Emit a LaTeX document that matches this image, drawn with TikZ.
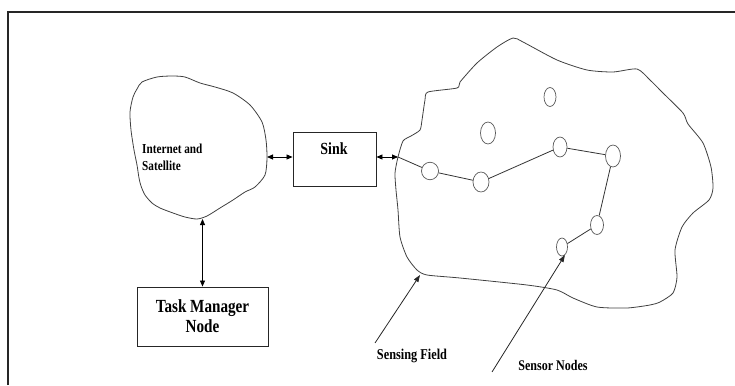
\documentclass[tikz,border=0pt]{standalone}
\usepackage{fontspec}
\setmainfont{Liberation Serif}
\newfontfamily\condfont[FakeStretch=0.82]{Liberation Serif}
\usetikzlibrary{arrows.meta,shapes.geometric}
\tikzset{
  outline/.style={draw=black!75, line width=0.8pt, line join=round},
  boxnode/.style={draw=black!85, line width=0.9pt, inner sep=0pt},
  txt/.style={inner sep=0pt, text=black},
  sensor/.style={ellipse, draw=black!65, line width=0.7pt, fill=white, inner sep=0pt},
  link/.style={draw=black!80, line width=0.8pt},
  dblarrow/.style={draw=black, line width=0.8pt, {Triangle[length=6pt,width=5pt]}-{Triangle[length=6pt,width=5pt]}},
  onearrow/.style={draw=black!85, line width=0.8pt, -{Triangle[length=7pt,width=5pt]}},
}
\begin{document}
\begin{tikzpicture}[x=1pt,y=-1pt]
\useasboundingbox (0,0) rectangle (735,385);
% frame
\draw[black!85, line width=1.3pt] (8,385) -- (8,12) -- (735,12);

% Internet and Satellite cloud
\draw[outline] plot[smooth cycle, tension=0.45] coordinates {
 (133,97) (137,89) (142,82) (157,77) (172,76) (185,77) (200,83) (215,87)
 (233,93) (250,105) (262,122) (266,140) (267,158) (265,175) (255,187)
 (245,192) (233,200) (220,208) (207,216) (197,219) (185,217) (173,213)
 (160,208) (152,203) (145,195) (141,186) (139,178) (137,165) (134,150)
 (131,130) (130,112)};
\node[txt, font=\condfont\bfseries\fontsize{13.7}{17}\selectfont, align=left, anchor=west] (inet) at (142,157) {Internet and\\Satellite};
\coordinate (inetE) at (267,157);
\coordinate (inetS) at (202.5,219);

% Sink
\node[boxnode, minimum width=83pt, minimum height=54pt] (sink) at (334.5,159) {};
\node[txt, font=\condfont\bfseries\fontsize{17}{20}\selectfont] (sinklbl) at (334,149) {Sink};

% Task Manager Node
\node[boxnode, minimum width=131pt, minimum height=59pt, align=center, text=black,
      font=\condfont\bfseries\fontsize{18.5}{20}\selectfont] (tm) at (202.5,316.5) {Task Manager\\Node};

% Sensing field
\draw[outline] plot[smooth cycle, tension=0.4] coordinates {
 (398,157) (403,141) (411,136) (420,130) (422,120) (425,100) (428,92)
 (457,88) (460,82) (477,63) (497,47) (513,38) (523,42) (557,60) (587,70)
 (613,72) (637,69) (650,80) (663,93) (683,113) (688,124) (703,143)
 (711,167) (713,188) (709,200) (693,213) (682,227) (675,250) (677,277)
 (673,293) (660,302) (650,305) (627,308) (597,307) (573,298) (557,290)
 (527,285) (460,278) (427,275) (417,270) (407,257) (400,237) (398,210)
 (396,190) (395,173)};
\coordinate (fieldIn) at (398,157);
\coordinate (fieldEdge) at (420,275);

% sensor nodes
\node[sensor, minimum width=17pt, minimum height=17.5pt] (A) at (430,171) {};
\node[sensor, minimum width=16pt, minimum height=20pt] (B) at (481,182) {};
\node[sensor, minimum width=14pt, minimum height=20pt] (C) at (560,147) {};
\node[sensor, minimum width=15pt, minimum height=22pt] (D) at (613,156) {};
\node[sensor, minimum width=12pt, minimum height=19pt] (E) at (550,97) {};
\node[sensor, minimum width=15pt, minimum height=22pt] (F) at (488,133) {};
\node[sensor, minimum width=13pt, minimum height=19pt] (G) at (597,225) {};
\node[sensor, minimum width=11pt, minimum height=18pt] (H) at (562,247) {};

\draw[link] (fieldIn) -- (A);
\draw[link] (A) -- (B);
\draw[link] (B) -- (C);
\draw[link] (C) -- (D);
\draw[link] (D) -- (G);
\draw[link] (G) -- (H);

% connectors
\draw[dblarrow] (inetE) -- (inetE -| sink.west);
\draw[dblarrow] (sink.east |- fieldIn) -- (fieldIn);
\draw[dblarrow] (inetS) -- (tm.north);

% labels with arrows
\coordinate (sfTail) at (375,343);
\coordinate (snTail) at (492,372);
\draw[onearrow] (sfTail) -- (fieldEdge);
\draw[onearrow] (snTail) -- (H.-70);
\node[txt, font=\condfont\bfseries\fontsize{15}{18}\selectfont, anchor=base] (sf) at (412,359) {Sensing Field};
\node[txt, font=\condfont\bfseries\fontsize{14.7}{18}\selectfont, anchor=base] (sn) at (553,370) {Sensor Nodes};
\end{tikzpicture}
\end{document}
